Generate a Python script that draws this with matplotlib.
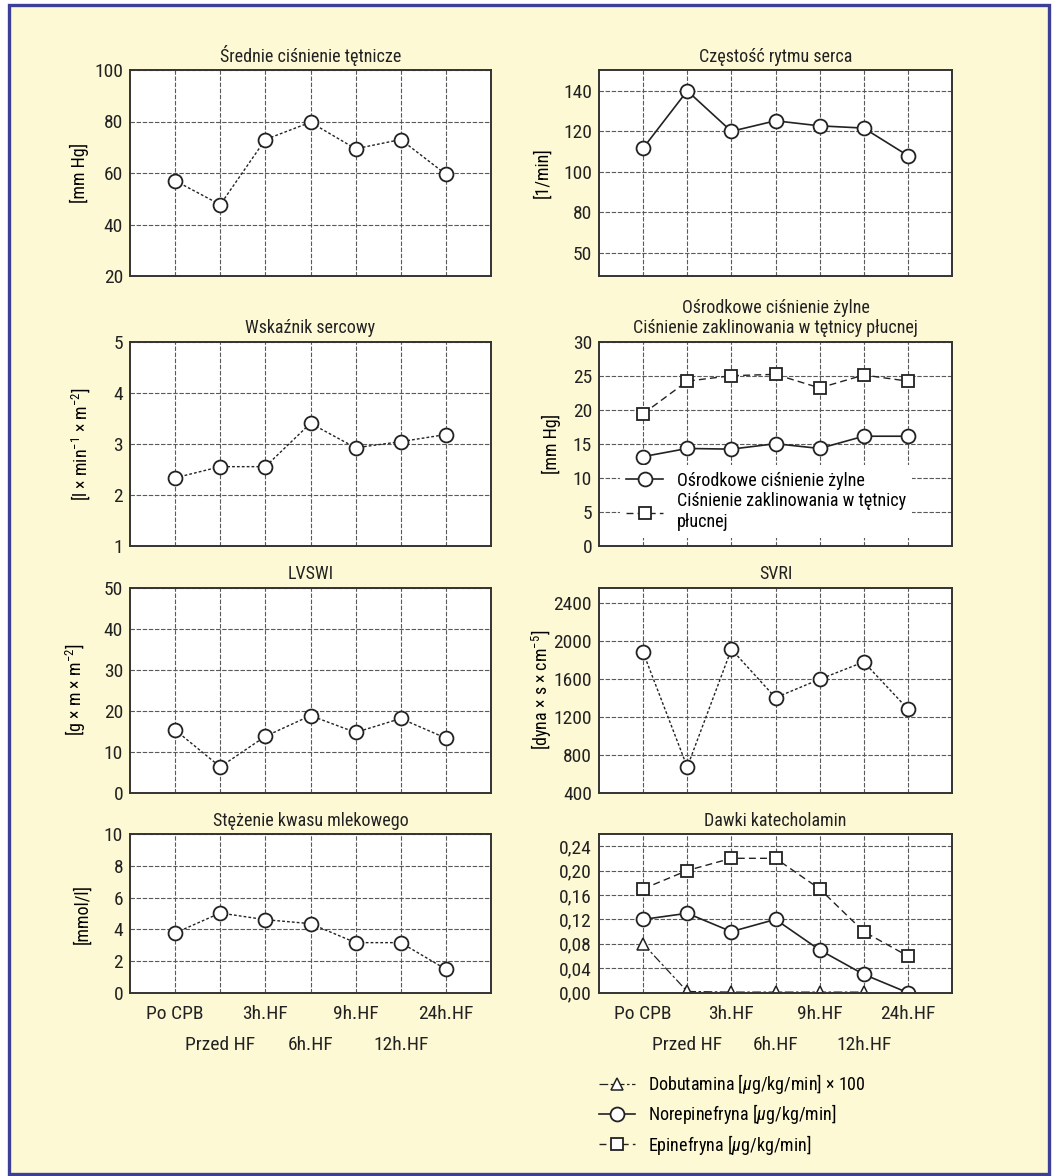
import matplotlib
matplotlib.use("Agg")
import matplotlib.pyplot as plt
from matplotlib import font_manager as fm
from matplotlib.patches import Rectangle

# waska czcionka (jak Helvetica Condensed), pierwsza dostepna
dostepne = {f.name for f in fm.fontManager.ttflist}
kandydaci = ["Roboto Condensed", "Archivo Narrow", "PT Sans Narrow",
             "Liberation Sans Narrow", "Open Sans Condensed", "DejaVu Sans"]
czcionka = [k for k in kandydaci if k in dostepne][0]
plt.rcParams["font.family"] = [czcionka, "DejaVu Sans"]
plt.rcParams["mathtext.fontset"] = "custom"
plt.rcParams["mathtext.rm"] = czcionka
plt.rcParams["mathtext.it"] = czcionka + ":italic"

# dane
punkty = ["Po CPB", "Przed HF", "3h.HF", "6h.HF", "9h.HF", "12h.HF", "24h.HF"]
map_mmhg = [57, 47.7, 73, 79.7, 69.4, 73, 59.5]
hr = [111.7, 140, 120, 125.2, 122.7, 121.6, 108]
hr_ticks = [60, 80, 100, 120, 140]
hr_labels = ["50", "80", "100", "120", "140"]
ci = [2.33, 2.55, 2.55, 3.40, 2.92, 3.04, 3.18]
cvp = [13.1, 14.3, 14.2, 15.0, 14.3, 16.1, 16.1]
pcwp = [19.4, 24.2, 25.0, 25.2, 23.2, 25.1, 24.2]
lvswi = [15.3, 6.3, 13.75, 18.8, 14.7, 18.1, 13.3]
svri = [1878, 670, 1910, 1400, 1594, 1776, 1281]
mleczan = [3.77, 5.03, 4.61, 4.36, 3.16, 3.16, 1.48]
dobutamina = [0.08, 0.002, 0.001, 0.001, 0.001, 0.001]
norepinefryna = [0.12, 0.13, 0.10, 0.12, 0.07, 0.03, 0.0]
epinefryna = [0.17, 0.20, 0.22, 0.22, 0.17, 0.10, 0.06]
kat_ticks = [0.0, 0.04, 0.08, 0.12, 0.16, 0.20, 0.24]
kat_labels = ["0,00", "0,04", "0,08", "0,12", "0,16", "0,20", "0,24"]

W, H = 1058, 1176
fig = plt.figure(figsize=(W / 100, H / 100), dpi=100, facecolor="white")
fig.patches.append(Rectangle((9 / W, 1 - 1174 / H), 1040 / W, 1169 / H,
                             transform=fig.transFigure, facecolor="#fef9d5",
                             edgecolor="#3b3f98", linewidth=2.4, zorder=-10))

kol = [(130, 361), (599, 353)]
wiersze = [(70, 276), (341.7, 545.7), (587.7, 792.7), (834.3, 992.7)]

x = list(range(len(punkty)))
kropki = (0, (2, 1.5))
kreski = (0, (5, 3))
circ = dict(marker="o", markersize=10, markerfacecolor="white",
            markeredgecolor="#222222", markeredgewidth=1.3, color="#222222")
sq = dict(marker="s", markersize=8.5, markerfacecolor="white",
          markeredgecolor="#222222", markeredgewidth=1.3, color="#222222")


def panel(r, c, title, ylim):
    x0, w = kol[c]
    top, bot = wiersze[r]
    ax = fig.add_axes([x0 / W, 1 - bot / H, w / W, (bot - top) / H])
    ax.set_facecolor("white")
    ax.set_xlim(-1, 7)
    ax.set_ylim(*ylim)
    ax.set_xticks([0, 2, 4, 6])
    ax.set_xticks([1, 3, 5], minor=True)
    ax.grid(True, which="both", color="#5a5a5a", linewidth=0.8,
            linestyle=(0, (4, 1.5)))
    ax.set_axisbelow(True)
    ax.tick_params(which="both", length=0, labelsize=14, pad=5,
                   colors="#222222")
    for s in ax.spines.values():
        s.set_color("#333333")
        s.set_linewidth(1.4)
    ax.set_title(title, fontsize=13, pad=6, color="#222222")
    if r < 3:
        ax.set_xticklabels([])
        ax.set_xticklabels([], minor=True)
    else:
        ax.set_xticklabels(punkty[0::2])
        ax.set_xticklabels(punkty[1::2], minor=True)
        ax.tick_params(axis="x", which="major", pad=9)
        ax.tick_params(axis="x", which="minor", pad=31)
    return ax


ax = panel(0, 0, "Średnie ciśnienie tętnicze", (20, 100))
ax.plot(x, map_mmhg, linestyle=kropki, linewidth=1, **circ)
ax.set_yticks([20, 40, 60, 80, 100])
ax.set_ylabel("[mm Hg]", fontsize=13)
ax.yaxis.set_label_coords(-0.114, 0.5)

ax = panel(0, 1, "Częstość rytmu serca", (48.5, 150.3))
ax.plot(x, hr, linestyle="-", linewidth=1.2, **circ)
ax.set_yticks(hr_ticks)
ax.set_yticklabels(hr_labels)
ax.set_ylabel("[1/min]", fontsize=13)
ax.yaxis.set_label_coords(-0.135, 0.5)

ax = panel(1, 0, "Wskaźnik sercowy", (1, 5))
ax.plot(x, ci, linestyle=kropki, linewidth=1, **circ)
ax.set_yticks([1, 2, 3, 4, 5])
ax.set_ylabel("[l × min$^{-1}$ × m$^{-2}$]", fontsize=13)
ax.yaxis.set_label_coords(-0.105, 0.5)

ax = panel(1, 1, "Ośrodkowe ciśnienie żylne\nCiśnienie zaklinowania w tętnicy płucnej",
           (0, 30))
ax.plot(x, cvp, linestyle="-", linewidth=1.2, label="Ośrodkowe ciśnienie żylne", **circ)
ax.plot(x, pcwp, linestyle=kreski, linewidth=1,
        label="Ciśnienie zaklinowania w tętnicy\npłucnej", **sq)
ax.set_yticks([0, 5, 10, 15, 20, 25, 30])
ax.set_ylabel("[mm Hg]", fontsize=13)
ax.yaxis.set_label_coords(-0.109, 0.5)
leg = ax.legend(loc="lower left", bbox_to_anchor=(0.06, 0.04), fontsize=13,
                frameon=True, facecolor="white", edgecolor="none", framealpha=1,
                fancybox=False, handlelength=2.0, handletextpad=0.8,
                labelspacing=0.15, borderpad=0.35, borderaxespad=0)

ax = panel(2, 0, "LVSWI", (0, 50))
ax.plot(x, lvswi, linestyle=kropki, linewidth=1, **circ)
ax.set_yticks([0, 10, 20, 30, 40, 50])
ax.set_ylabel("[g × m × m$^{-2}$]", fontsize=13)
ax.yaxis.set_label_coords(-0.115, 0.5)

ax = panel(2, 1, "SVRI", (400, 2558))
ax.plot(x, svri, linestyle=kropki, linewidth=1, **circ)
ax.set_yticks([400, 800, 1200, 1600, 2000, 2400])
ax.set_ylabel("[dyna × s × cm$^{-5}$]", fontsize=13)
ax.yaxis.set_label_coords(-0.127, 0.5)

ax = panel(3, 0, "Stężenie kwasu mlekowego", (0, 10))
ax.plot(x, mleczan, linestyle=kropki, linewidth=1, **circ)
ax.set_yticks([0, 2, 4, 6, 8, 10])
ax.set_ylabel("[mmol/l]", fontsize=13)
ax.yaxis.set_label_coords(-0.108, 0.5)

ax = panel(3, 1, "Dawki katecholamin", (0, 0.2593))
tri = dict(marker="^", markersize=8, markerfacecolor="white",
           markeredgecolor="#222222", markeredgewidth=1.1, color="#222222")
ax.plot(x[:len(dobutamina)], dobutamina, linestyle=(0, (7, 2, 2, 2)), linewidth=0.9,
        label="Dobutamina [$\\mu$g/kg/min] × 100", **tri)
ax.plot(x, norepinefryna, linestyle="-", linewidth=1.2,
        label="Norepinefryna [$\\mu$g/kg/min]", **circ)
ax.plot(x, epinefryna, linestyle=kreski, linewidth=1,
        label="Epinefryna [$\\mu$g/kg/min]", **sq)
ax.set_yticks(kat_ticks)
ax.set_yticklabels(kat_labels)
ax.legend(loc="upper left", bbox_to_anchor=(0.0, -0.50), fontsize=13,
          frameon=False, handlelength=2.0, handletextpad=0.7,
          labelspacing=0.35, borderpad=0, borderaxespad=0)

fig.savefig("out.png", dpi=100, facecolor="white")
